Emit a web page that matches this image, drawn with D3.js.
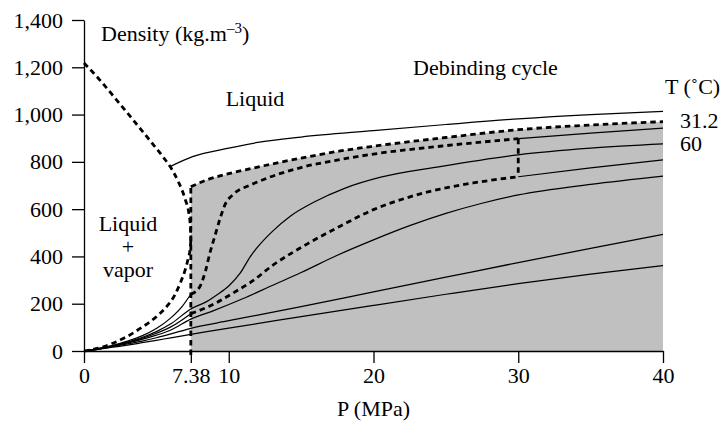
<!DOCTYPE html>
<html>
<head>
<meta charset="utf-8">
<script src="https://cdn.jsdelivr.net/npm/d3@7"></script>
<style>
  html, body { margin: 0; padding: 0; background: #fff; }
  svg { display: block; }
  svg text { font-family: "Liberation Serif", "Times New Roman", Tinos, "DejaVu Serif", serif !important; fill: #000; }
</style>
</head>
<body>
<svg id="chart" width="723" height="423"></svg>
<script>
// CO2 density (kg/m3) versus pressure (MPa): [P, rho] points per curve.

// Saturation dome (dashed), liquid and vapour branches meeting at the critical point
const domeLiquid = [[0,1218],[1.1,1146],[2.26,1061],[3.4,977],[4.56,890],[5.5,818],[5.95,780],[6.5,718],[7.0,640],[7.25,580],[7.35,525],[7.38,468]];
const domeVapor  = [[0,0],[1,12],[2,33],[3,62],[4,100],[5,145],[5.7,187],[6.3,240],[6.64,286],[7.0,345],[7.2,392],[7.33,432],[7.38,468]];

// Liquid isotherm (solid), starting on the liquid branch
const isoLiquid = [[5.95,780],[7.5,822],[10,858],[12,882],[15,905],[20,932],[25,958],[30,982],[35,1000],[40,1013]];

// 31.2 °C isotherm (dashed) bounding the supercritical domain
const criticalPressure = 7.38;
const iso31 = [[7.38,695],[8.5,724],[10,750],[12,778],[15,816],[17.7,846],[20,866],[25,903],[30,936],[35,956],[40,970]];

// Debinding cycle: pressurisation isotherm, decompression isotherm
const cycleHighGas   = [[0,0],[1,10],[2,24],[3,42],[4,64],[5,95],[6,140],[6.8,190],[7.38,240]];
const cycleHighPath  = [[7.38,240],[8.0,272],[8.4,340],[8.7,415],[9.06,490],[9.4,560],[9.75,620],[10.3,662],[11.5,702],[12.6,730],[15,776],[17.7,810],[20,833],[24.6,866],[30,898]];
const cycleHighRest  = [[30,898],[35,922],[40,943]];
const cycleLowGas    = [[0,0],[1,10],[2,22],[3,36],[4,53],[5,75],[6,102],[7.38,158]];
const cycleLowPath   = [[7.38,158],[8.5,185],[9.17,205],[10.56,255],[11.5,290],[13.1,365],[15.4,452],[17.7,528],[20,598],[22.3,648],[24.6,685],[27,712],[30,737]];
const cycleLowRest   = [[30,737],[35,775],[40,808]];

// Other isotherms (solid)
const iso60 = [[0,0],[1,10],[2,23],[3,38],[4,57],[5,82],[6,115],[7.38,178],[8.5,210],[9.17,237],[10,275],[10.8,330],[11.5,400],[12,440],[13,505],[14.25,570],[15.9,630],[18,688],[20.5,735],[24.6,780],[30,830],[35,858],[40,876]];
const isoF  = [[0,0],[1,9],[2,21],[3,34],[4,49],[5,67],[6,89],[7.38,135],[9,172],[11,222],[13,277],[15,332],[17.5,405],[20,470],[22.5,530],[25,582],[27.5,625],[30,660],[35,705],[40,740]];
const isoG  = [[0,0],[1,8],[2,19],[3,30],[4,42],[5,56],[6,72],[7.38,96],[10,128],[15,188],[20,250],[25,312],[30,374],[35,434],[40,493]];
const isoH  = [[0,0],[1,7],[2,16],[3,25],[4,35],[5,45],[6,56],[7.38,70],[10,97],[15,145],[20,193],[25,240],[30,285],[35,325],[40,361]];

// Axis ticks
const xTicks = [0, 7.38, 10, 20, 30, 40];
const yTicks = [0, 200, 400, 600, 800, 1000, 1200, 1400];

const svg = d3.select("#chart");
const margin = {left: 84, right: 60, top: 20, bottom: 72};
const W = 723, H = 423;
const FONT = "'Liberation Serif', 'Times New Roman', Tinos, 'DejaVu Serif', serif";

const x = d3.scaleLinear().domain([0, 40]).range([margin.left, W - margin.right]);
const y = d3.scaleLinear().domain([0, 1400]).range([H - margin.bottom, margin.top]);

const line = d3.line().x(d => x(d[0])).y(d => y(d[1])).curve(d3.curveMonotoneX);

// Supercritical region shaded under the 31.2 °C isotherm
svg.append("path")
  .datum(iso31)
  .attr("d", d3.area().x(d => x(d[0])).y0(y(0)).y1(d => y(d[1])).curve(d3.curveMonotoneX))
  .attr("fill", "#c0c0c0");

const SOLID = 1.25, DASH_W = 2.8, DASH = "5.5,4";

function solid(data) {
  svg.append("path").datum(data).attr("d", line)
    .attr("fill", "none").attr("stroke", "#000").attr("stroke-width", SOLID);
}
function dashed(data) {
  svg.append("path").datum(data).attr("d", line)
    .attr("fill", "none").attr("stroke", "#000").attr("stroke-width", DASH_W)
    .attr("stroke-dasharray", DASH);
}

[isoLiquid, cycleHighGas, cycleHighRest, cycleLowGas, cycleLowRest, iso60, isoF, isoG, isoH].forEach(solid);

// Axes
const fontSize = 22;
const yAxis = svg.append("g").attr("transform", `translate(${margin.left},0)`)
  .call(d3.axisLeft(y).tickValues(yTicks).tickFormat(d3.format(",")).tickSize(12).tickSizeOuter(0).tickPadding(9));
const xAxis = svg.append("g").attr("transform", `translate(0,${y(0)})`)
  .call(d3.axisBottom(x).tickValues(xTicks).tickFormat(d => d === 7.38 ? "7.38" : String(d)).tickSize(12).tickSizeOuter(0).tickPadding(4));
[yAxis, xAxis].forEach(g => {
  g.attr("font-family", FONT).attr("font-size", fontSize);
  g.selectAll("path, line").attr("stroke", "#000").attr("stroke-width", 1.3);
  g.selectAll("text").attr("font-size", fontSize).style("font-family", FONT).attr("fill", "#000");
});

// Dashed curves on top
[domeLiquid, domeVapor, iso31, cycleHighPath, cycleLowPath].forEach(dashed);

// Isobaric segments: critical pressure line and decompression step at 30 MPa
function dashedSegment(p0, p1, extra) {
  svg.append("line")
    .attr("x1", x(p0[0])).attr("x2", x(p1[0]))
    .attr("y1", y(p0[1]) + (extra || 0)).attr("y2", y(p1[1]))
    .attr("stroke", "#000").attr("stroke-width", DASH_W).attr("stroke-dasharray", DASH);
}
dashedSegment([criticalPressure, 0], iso31[0], 4);
dashedSegment(cycleHighPath[cycleHighPath.length - 1], cycleLowPath[cycleLowPath.length - 1]);

// Annotations
function label(txt, px, py, anchor) {
  return svg.append("text").attr("x", px).attr("y", py)
    .attr("font-size", fontSize).style("font-family", FONT)
    .attr("text-anchor", anchor || "start").text(txt);
}
const dens = label("Density (kg.m", 101, 41);
dens.append("tspan").attr("font-size", 15).attr("dy", -8).text("–3");
dens.append("tspan").attr("dy", 8).text(")");

label("Liquid", 255, 106, "middle");
label("Debinding cycle", 413, 75);
label("T (˚C)", 665, 94);
label("31.2", 680, 128);
label("60", 680, 151);
label("Liquid", 128, 231, "middle");
label("+", 128, 254, "middle");
label("vapor", 128, 277, "middle");
label("P (MPa)", x(20), 416, "middle");
</script>
</body>
</html>
